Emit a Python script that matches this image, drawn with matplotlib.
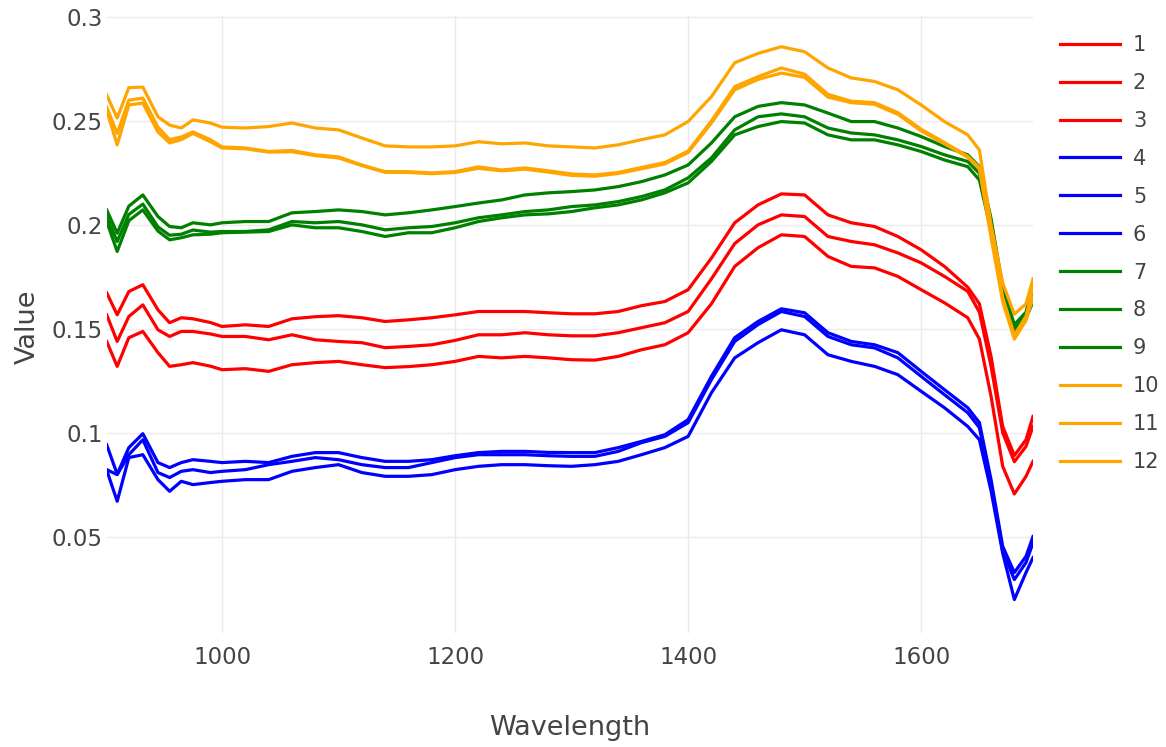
import numpy as np
import matplotlib
matplotlib.use("Agg")
import matplotlib.pyplot as plt

plt.rcParams["font.family"] = ["DejaVu Sans"]

# wavelength grid (nm)
wavelength = [901, 910, 920, 932, 945, 955, 965, 975, 990, 1000,
              1020, 1040, 1060, 1080, 1100, 1120, 1140, 1160,
              1180, 1200, 1220, 1240, 1260, 1280, 1300, 1320, 1340, 1360, 1380, 1400,
              1420, 1440, 1460, 1480, 1500, 1520, 1540, 1560, 1580, 1600, 1620, 1640,
              1650, 1660, 1670, 1680, 1690, 1696]

s1 = [0.1673, 0.1567, 0.1679, 0.1712, 0.1591, 0.1529, 0.1553, 0.1548, 0.1530, 0.1511,
      0.1519, 0.1511, 0.1548, 0.1558, 0.1563, 0.1553, 0.1535, 0.1543,
      0.1553, 0.1567, 0.1583, 0.1583, 0.1583, 0.1577, 0.1572, 0.1572, 0.1583, 0.1611, 0.1631, 0.1688,
      0.1840, 0.2010, 0.2096, 0.2149, 0.2144, 0.2048, 0.2010, 0.1992, 0.1944, 0.1880, 0.1800, 0.1700,
      0.1620, 0.1367, 0.1030, 0.0890, 0.0966, 0.1078]
s2 = [0.1567, 0.1439, 0.1559, 0.1615, 0.1495, 0.1463, 0.1487, 0.1487, 0.1475, 0.1463,
      0.1463, 0.1447, 0.1471, 0.1447, 0.1439, 0.1433, 0.1409, 0.1415,
      0.1423, 0.1444, 0.1471, 0.1471, 0.1481, 0.1471, 0.1466, 0.1466, 0.1481, 0.1505, 0.1529, 0.1583,
      0.1740, 0.1910, 0.2000, 0.2048, 0.2040, 0.1944, 0.1920, 0.1904, 0.1865, 0.1817, 0.1752, 0.1680,
      0.1580, 0.1320, 0.1000, 0.0860, 0.0934, 0.1030]
s3 = [0.1439, 0.1319, 0.1457, 0.1487, 0.1385, 0.1319, 0.1327, 0.1337, 0.1320, 0.1303,
      0.1308, 0.1295, 0.1327, 0.1337, 0.1343, 0.1327, 0.1313, 0.1318,
      0.1327, 0.1343, 0.1367, 0.1360, 0.1367, 0.1360, 0.1351, 0.1349, 0.1367, 0.1399, 0.1423, 0.1481,
      0.1620, 0.1800, 0.1890, 0.1952, 0.1944, 0.1848, 0.1800, 0.1793, 0.1752, 0.1688, 0.1625, 0.1553,
      0.1450, 0.1175, 0.0838, 0.0705, 0.0790, 0.0862]
s4 = [0.0942, 0.0800, 0.0928, 0.0995, 0.0856, 0.0832, 0.0856, 0.0870, 0.0862, 0.0856,
      0.0862, 0.0856, 0.0886, 0.0904, 0.0904, 0.0880, 0.0862, 0.0862,
      0.0870, 0.0889, 0.0904, 0.0910, 0.0910, 0.0905, 0.0904, 0.0904, 0.0928, 0.0958, 0.0990, 0.1063,
      0.1271, 0.1457, 0.1535, 0.1596, 0.1577, 0.1481, 0.1439, 0.1423, 0.1385, 0.1295, 0.1207, 0.1120,
      0.1048, 0.0774, 0.0453, 0.0327, 0.0405, 0.0500]
s5 = [0.0822, 0.0798, 0.0894, 0.0966, 0.0808, 0.0784, 0.0814, 0.0822, 0.0808, 0.0814,
      0.0822, 0.0846, 0.0862, 0.0880, 0.0870, 0.0846, 0.0832, 0.0832,
      0.0856, 0.0880, 0.0894, 0.0894, 0.0894, 0.0889, 0.0886, 0.0886, 0.0910, 0.0952, 0.0982, 0.1048,
      0.1255, 0.1439, 0.1520, 0.1583, 0.1559, 0.1463, 0.1423, 0.1408, 0.1360, 0.1271, 0.1183, 0.1096,
      0.1024, 0.0746, 0.0430, 0.0293, 0.0375, 0.0470]
s6 = [0.0820, 0.0670, 0.0880, 0.0894, 0.0774, 0.0718, 0.0766, 0.0750, 0.0760, 0.0766,
      0.0774, 0.0774, 0.0814, 0.0832, 0.0846, 0.0808, 0.0790, 0.0790,
      0.0798, 0.0822, 0.0838, 0.0846, 0.0846, 0.0841, 0.0838, 0.0846, 0.0862, 0.0894, 0.0928, 0.0982,
      0.1192, 0.1360, 0.1433, 0.1495, 0.1471, 0.1375, 0.1343, 0.1319, 0.1279, 0.1199, 0.1120, 0.1030,
      0.0966, 0.0720, 0.0420, 0.0197, 0.0327, 0.0399]
s7 = [0.2072, 0.1960, 0.2090, 0.2144, 0.2040, 0.1992, 0.1986, 0.2010, 0.2000, 0.2010,
      0.2016, 0.2016, 0.2058, 0.2064, 0.2072, 0.2064, 0.2048, 0.2058,
      0.2072, 0.2088, 0.2105, 0.2120, 0.2144, 0.2154, 0.2160, 0.2168, 0.2184, 0.2208, 0.2240, 0.2288,
      0.2394, 0.2520, 0.2570, 0.2588, 0.2577, 0.2538, 0.2497, 0.2497, 0.2466, 0.2425, 0.2377, 0.2337,
      0.2280, 0.2030, 0.1700, 0.1520, 0.1580, 0.1720]
s8 = [0.2040, 0.1920, 0.2050, 0.2100, 0.1990, 0.1950, 0.1955, 0.1975, 0.1965, 0.1968,
      0.1968, 0.1976, 0.2016, 0.2010, 0.2016, 0.2000, 0.1976, 0.1986,
      0.1992, 0.2010, 0.2034, 0.2048, 0.2064, 0.2072, 0.2088, 0.2096, 0.2112, 0.2136, 0.2168, 0.2226,
      0.2322, 0.2457, 0.2520, 0.2534, 0.2520, 0.2466, 0.2442, 0.2433, 0.2409, 0.2377, 0.2337, 0.2305,
      0.2248, 0.2000, 0.1680, 0.1500, 0.1560, 0.1660]
s9 = [0.2016, 0.1872, 0.2020, 0.2072, 0.1970, 0.1928, 0.1938, 0.1952, 0.1955, 0.1962,
      0.1965, 0.1968, 0.2000, 0.1986, 0.1986, 0.1968, 0.1944, 0.1962,
      0.1962, 0.1986, 0.2016, 0.2034, 0.2048, 0.2053, 0.2064, 0.2082, 0.2096, 0.2120, 0.2154, 0.2202,
      0.2305, 0.2433, 0.2473, 0.2497, 0.2490, 0.2433, 0.2409, 0.2409, 0.2385, 0.2353, 0.2312, 0.2280,
      0.2216, 0.1970, 0.1660, 0.1490, 0.1550, 0.1630]
s10 = [0.2625, 0.2514, 0.2660, 0.2663, 0.2520, 0.2480, 0.2466, 0.2505, 0.2490, 0.2470,
       0.2466, 0.2473, 0.2490, 0.2466, 0.2457, 0.2418, 0.2380, 0.2375,
       0.2375, 0.2380, 0.2400, 0.2390, 0.2394, 0.2380, 0.2375, 0.2370, 0.2385, 0.2410, 0.2433, 0.2497,
       0.2617, 0.2780, 0.2825, 0.2857, 0.2833, 0.2755, 0.2707, 0.2690, 0.2650, 0.2577, 0.2497, 0.2433,
       0.2360, 0.2000, 0.1720, 0.1570, 0.1620, 0.1740]
s11 = [0.2567, 0.2440, 0.2600, 0.2610, 0.2470, 0.2410, 0.2423, 0.2447, 0.2410, 0.2375,
       0.2370, 0.2353, 0.2358, 0.2337, 0.2327, 0.2288, 0.2256, 0.2256,
       0.2250, 0.2256, 0.2279, 0.2264, 0.2274, 0.2260, 0.2245, 0.2240, 0.2252, 0.2276, 0.2300, 0.2355,
       0.2500, 0.2665, 0.2713, 0.2755, 0.2725, 0.2628, 0.2595, 0.2588, 0.2540, 0.2460, 0.2396, 0.2330,
       0.2276, 0.1960, 0.1650, 0.1470, 0.1560, 0.1700]
s12 = [0.2550, 0.2385, 0.2577, 0.2586, 0.2447, 0.2394, 0.2410, 0.2440, 0.2400, 0.2370,
       0.2366, 0.2350, 0.2352, 0.2333, 0.2322, 0.2285, 0.2253, 0.2252,
       0.2246, 0.2252, 0.2272, 0.2260, 0.2268, 0.2254, 0.2238, 0.2234, 0.2247, 0.2270, 0.2293, 0.2348,
       0.2490, 0.2650, 0.2700, 0.2730, 0.2710, 0.2615, 0.2588, 0.2580, 0.2532, 0.2452, 0.2390, 0.2325,
       0.2270, 0.1940, 0.1630, 0.1450, 0.1540, 0.1650]

series = [s1, s2, s3, s4, s5, s6, s7, s8, s9, s10, s11, s12]
labels = [str(i) for i in range(1, 13)]
colors = ["red"] * 3 + ["blue"] * 3 + ["green"] * 3 + ["orange"] * 3

W, H = 1166, 747
fig = plt.figure(figsize=(W / 100, H / 100), dpi=100)
left, right, top, bottom = 106.7, 1033, 16, 633
ax = fig.add_axes([left / W, 1 - bottom / H, (right - left) / W, (bottom - top) / H])

for y, lab, c in zip(series, labels, colors):
    ax.plot(wavelength, y, color=c, lw=2.3, label=lab)

ax.set_xlim(901, 1696)
ax.set_ylim(0.0036, 0.3005)
ax.set_xticks([1000, 1200, 1400, 1600])
ax.set_yticks([0.05, 0.1, 0.15, 0.2, 0.25, 0.3])
ax.set_yticklabels(["0.05", "0.1", "0.15", "0.2", "0.25", "0.3"])
ax.grid(True, color="#ebebeb", lw=1.0)
ax.set_axisbelow(True)
for sp in ax.spines.values():
    sp.set_visible(False)
ax.tick_params(length=0, labelsize=16.5, labelcolor="#444444")
ax.tick_params(axis="x", pad=9)
ax.tick_params(axis="y", pad=3)

ax.set_xlabel("Wavelength", fontsize=19.5, color="#444444", va="center")
ax.xaxis.set_label_coords(0.5, -0.154)
ax.set_ylabel("Value", fontsize=19.5, color="#444444", va="center")
ax.yaxis.set_label_coords(-0.085, 0.496)

ax.legend(loc="upper left", bbox_to_anchor=(1060 / W, 1 - 35 / H),
          bbox_transform=fig.transFigure, frameon=False, fontsize=15,
          handlelength=2.9, handletextpad=0.6, labelspacing=0.86,
          borderpad=0, borderaxespad=0, labelcolor="#444444")

fig.savefig("out.png", dpi=100)
